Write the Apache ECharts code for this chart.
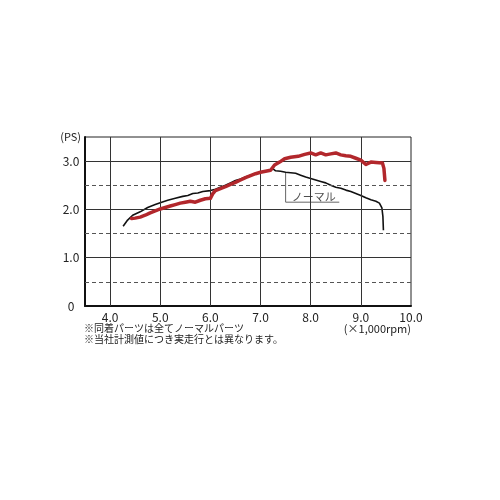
<!DOCTYPE html>
<html><head><meta charset="utf-8">
<script src="https://cdn.jsdelivr.net/npm/echarts@6/dist/echarts.min.js"></script>
<style>html,body{margin:0;padding:0;background:#fff}#c{width:500px;height:500px}</style>
</head><body><div id="c"></div>
<script>
const xTicks = [4, 5, 6, 7, 8, 9, 10];
const gridX = [4, 5, 6, 7, 8, 9];
const gridYSolid = [1, 2, 3];
const gridYDashed = [0.5, 1.5, 2.5];
const normalData = [[4.26,1.65],[4.35,1.78],[4.45,1.88],[4.6,1.95],[4.75,2.04],[4.9,2.10],[5.0,2.14],[5.15,2.19],[5.3,2.23],[5.45,2.27],[5.55,2.29],[5.65,2.33],[5.75,2.34],[5.85,2.37],[6.0,2.39],[6.1,2.42],[6.2,2.46],[6.3,2.50],[6.4,2.55],[6.5,2.60],[6.6,2.63],[6.7,2.67],[6.8,2.71],[6.9,2.74],[7.0,2.78],[7.1,2.79],[7.2,2.81],[7.25,2.84],[7.3,2.80],[7.4,2.79],[7.5,2.77],[7.6,2.76],[7.7,2.75],[7.8,2.71],[7.9,2.67],[8.0,2.64],[8.1,2.61],[8.2,2.58],[8.3,2.55],[8.4,2.50],[8.5,2.46],[8.6,2.44],[8.7,2.40],[8.8,2.37],[8.9,2.33],[9.0,2.29],[9.1,2.24],[9.2,2.20],[9.3,2.17],[9.37,2.13],[9.42,2.03],[9.44,1.85],[9.45,1.57]];
const tunedData = [[4.43,1.81],[4.5,1.82],[4.6,1.84],[4.7,1.88],[4.8,1.93],[4.9,1.97],[5.0,2.01],[5.1,2.04],[5.2,2.07],[5.3,2.10],[5.4,2.13],[5.5,2.15],[5.6,2.17],[5.7,2.15],[5.8,2.19],[5.9,2.22],[6.0,2.23],[6.05,2.33],[6.1,2.39],[6.2,2.43],[6.3,2.47],[6.4,2.52],[6.5,2.56],[6.6,2.61],[6.7,2.66],[6.8,2.70],[6.9,2.74],[7.0,2.77],[7.1,2.79],[7.2,2.81],[7.28,2.92],[7.38,2.98],[7.48,3.05],[7.6,3.08],[7.75,3.10],[7.88,3.14],[8.0,3.17],[8.1,3.13],[8.2,3.17],[8.3,3.13],[8.4,3.15],[8.5,3.17],[8.6,3.13],[8.7,3.11],[8.8,3.10],[8.9,3.06],[9.0,3.02],[9.1,2.93],[9.2,2.98],[9.3,2.97],[9.43,2.96],[9.46,2.85],[9.48,2.60]];
const leaderData = [[7.5,2.77],[7.5,2.15],[8.57,2.15]];
const normalLabelPos = [[8.06,2.26]];
const normalLabel = 'ノーマル';
const yName = '(PS)';
const xName = '(×1,000rpm)';
const notes = ['※同着パーツは全てノーマルパーツ', '※当社計測値につき実走行とは異なります。'];

const FONT = '"Noto Sans CJK JP", "Noto Sans", sans-serif';
const chart = echarts.init(document.getElementById('c'), null, {renderer: 'canvas'});
chart.setOption({
  animation: false,
  backgroundColor: '#fff',
  grid: {left: 85, right: 89, top: 137, bottom: 194, show: true, borderColor: '#222', borderWidth: 1, backgroundColor: 'transparent'},
  xAxis: {
    type: 'value', min: 3.5, max: 10, interval: 0.5,
    axisLine: {show: true, lineStyle: {color: '#111', width: 2}},
    axisTick: {show: false}, splitLine: {show: false},
    axisLabel: {color: '#222', fontSize: 12, fontFamily: FONT, margin: 5,
      formatter: v => xTicks.includes(v) ? v.toFixed(1) : ''},
    name: xName, nameLocation: 'end', nameGap: 0,
    nameTextStyle: {color: '#222', fontSize: 11, fontFamily: FONT, align: 'right', verticalAlign: 'top', padding: [17, 0, 0, 0]}
  },
  yAxis: {
    type: 'value', min: 0, max: 3.5, interval: 0.5,
    axisLine: {show: true, lineStyle: {color: '#111', width: 2}},
    axisTick: {show: false}, splitLine: {show: false},
    axisLabel: {color: '#222', fontSize: 12, fontFamily: FONT, align: 'center', margin: 14,
      formatter: v => (v === 0 ? '0' : (v % 1 === 0 && v <= 3 ? v.toFixed(1) : ''))},
    name: yName, nameLocation: 'end', nameGap: 0,
    nameTextStyle: {color: '#222', fontSize: 11, fontFamily: FONT, align: 'right', verticalAlign: 'middle', padding: [0, 4, 0, 0]}
  },
  series: [
    {
      type: 'line', data: [], silent: true, z: 1,
      markLine: {
        silent: true, symbol: 'none', label: {show: false}, animation: false,
        data: [
          ...gridX.map(v => ({xAxis: v, lineStyle: {color: '#333', width: 1, type: 'solid'}})),
          ...gridYSolid.map(v => ({yAxis: v, lineStyle: {color: '#333', width: 1, type: 'solid'}})),
          ...gridYDashed.map(v => ({yAxis: v, lineStyle: {color: '#555', width: 1, type: [4, 3]}}))
        ]
      }
    },
    {
      type: 'line', data: leaderData, symbol: 'none', silent: true, z: 2,
      lineStyle: {color: '#666', width: 1}
    },
    {
      type: 'scatter', data: normalLabelPos, symbolSize: 0, silent: true, z: 3,
      label: {show: true, position: 'inside', formatter: normalLabel, color: '#222', fontSize: 11, fontFamily: FONT}
    },
    {
      type: 'line', data: normalData, symbol: 'none', z: 4,
      lineStyle: {color: '#111', width: 1.6}
    },
    {
      type: 'line', data: tunedData, symbol: 'none', z: 5,
      lineStyle: {color: '#b2272c', width: 3.5, cap: 'round', join: 'round'}
    }
  ],
  graphic: [
    {type: 'text', left: 84, top: 323, style: {text: notes[0], fill: '#222', font: '10px ' + FONT}},
    {type: 'text', left: 84, top: 334, style: {text: notes[1], fill: '#222', font: '10px ' + FONT}}
  ]
});
</script></body></html>
